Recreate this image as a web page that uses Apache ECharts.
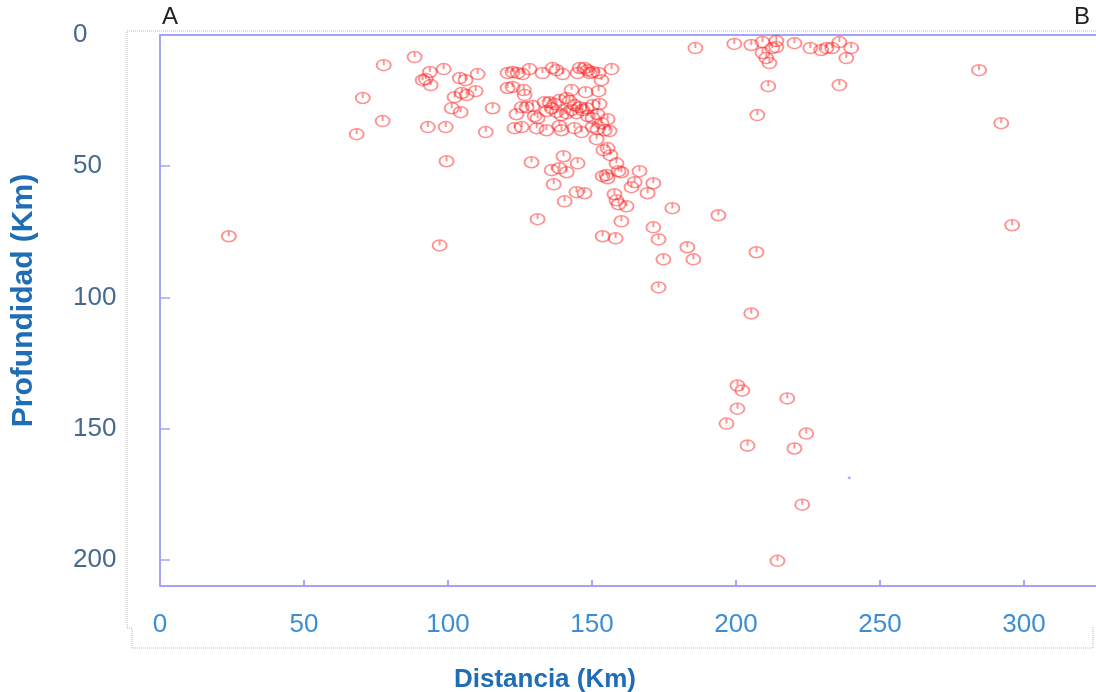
<!DOCTYPE html>
<html>
<head>
<meta charset="utf-8">
<script src="https://cdn.jsdelivr.net/npm/echarts@6/dist/echarts.min.js"></script>
<style>
html,body{margin:0;padding:0;background:#fff;}
#chart{width:1096px;height:692px;}
</style>
</head>
<body>
<div id="chart"></div>
<script>
// Distance along profile (km)
const distancia = [
  23.9, 68.3, 70.4, 77.7, 77.3, 88.4, 93.0, 99.2, 99.5, 97.1,
  93.7, 98.5, 91.2, 92.3, 94.0, 104.1, 106.1, 110.3, 102.3, 104.8,
  106.5, 109.6, 101.3, 104.4, 115.5, 113.1,
  120.7, 122.4, 124.2, 125.9, 128.3, 120.7, 122.4, 126.3, 126.6, 132.8,
  136.3, 137.7, 139.8, 145.0, 145.7, 147.4, 148.5, 149.2, 150.2, 152.3,
  153.3, 156.8, 142.9, 147.8, 152.3, 123.8, 125.6, 127.3, 129.4, 130.1,
  131.1, 133.5, 135.3, 137.0, 138.7, 141.2, 142.2, 143.9, 145.7, 148.1,
  150.2, 152.6, 134.2, 136.0, 137.7, 139.4, 141.2, 142.9, 144.6, 146.7,
  148.5, 150.2, 151.9, 155.4, 123.1, 125.6, 130.8, 134.2, 138.7, 139.4,
  143.9, 146.4, 150.2, 151.9, 153.3, 154.4, 156.1, 151.6,
  129.0, 140.1, 145.0, 136.0, 138.7, 141.2, 136.7, 144.6, 147.4, 140.5,
  131.1, 154.0, 155.4, 156.4, 158.5, 160.2, 159.2, 166.5, 153.7, 155.0,
  155.4, 164.8, 163.7, 171.3, 169.3, 157.8, 158.5, 159.2, 162.0, 177.9,
  193.9, 160.2, 171.3, 153.7, 158.2, 173.1, 183.1, 174.8, 185.2, 207.1,
  173.1, 205.3,
  200.5, 202.2, 217.8, 200.5, 196.7, 224.4, 204.0, 220.3, 223.0, 214.4,
  185.9, 199.4, 205.3, 209.2, 214.0, 212.6, 214.0, 209.2, 210.5, 211.6,
  220.3, 225.8, 229.6, 231.4, 233.4, 235.9, 240.0, 238.3, 211.2, 235.9,
  207.4,
  284.4, 292.1, 295.9
];
// Depth (km)
const profundidad = [
  76.7, 37.8, 24.0, 11.5, 32.8, 8.4, 35.1, 35.1, 48.1, 80.2,
  14.1, 13.0, 17.2, 16.8, 19.1, 16.4, 17.2, 14.9, 23.7, 22.1,
  22.9, 21.4, 27.9, 29.4, 27.9, 37.0,
  14.5, 14.1, 14.5, 14.9, 13.0, 20.2, 19.8, 21.0, 22.9, 14.5,
  12.6, 13.4, 14.9, 14.5, 12.6, 12.6, 13.4, 14.5, 14.1, 14.5,
  17.2, 13.0, 21.0, 21.8, 21.4, 30.2, 27.5, 27.5, 27.1, 30.9,
  31.7, 25.6, 25.6, 26.3, 24.8, 24.0, 25.2, 26.7, 27.5, 27.9,
  26.7, 26.3, 29.0, 27.9, 29.4, 30.5, 29.8, 28.6, 29.8, 28.6,
  30.9, 31.7, 30.2, 32.1, 35.5, 35.1, 35.5, 36.3, 34.7, 36.3,
  35.5, 37.0, 35.1, 35.9, 33.6, 36.3, 36.6, 39.7,
  48.5, 46.2, 48.9, 51.5, 50.8, 52.3, 56.9, 59.9, 60.3, 63.4,
  70.2, 43.9, 43.1, 45.8, 48.9, 52.3, 51.9, 51.9, 53.8, 53.4,
  54.6, 56.1, 58.0, 56.5, 60.3, 60.7, 63.0, 64.5, 65.3, 66.0,
  68.7, 71.0, 73.3, 76.7, 77.5, 77.9, 80.9, 85.5, 85.5, 82.8,
  96.2, 106.1,
  133.6, 135.5, 138.5, 142.4, 148.1, 151.9, 156.5, 157.6, 179.0, 200.4,
  5.0, 3.4, 3.8, 2.7, 2.3, 5.0, 4.6, 6.9, 8.8, 10.7,
  3.1, 5.0, 5.7, 5.0, 5.0, 2.7, 5.0, 8.8, 19.5, 19.1,
  30.5,
  13.4, 33.6, 72.5
];
// Isolated small mark
const puntoDist = [239.3];
const puntoProf = [168.7];

const xTicks = [0, 50, 100, 150, 200, 250, 300];
const yTicks = [0, 50, 100, 150, 200];

const sismos = distancia.map((d, i) => [d, profundidad[i]]);
const punto = puntoDist.map((d, i) => [d, puntoProf[i]]);

const axisBlue = '#a4a4f6';
const font = '"Liberation Sans", Arial, sans-serif';

const chart = echarts.init(document.getElementById('chart'), null, {renderer: 'canvas'});
chart.setOption({
  animation: false,
  backgroundColor: '#ffffff',
  grid: {left: 160, right: 0, top: 35, bottom: 106, containLabel: false, outerBoundsMode: 'none'},
  xAxis: [{
    type: 'value', min: 0, max: 325, position: 'bottom',
    name: 'Distancia (Km)', nameLocation: 'middle', nameGap: 81,
    nameTextStyle: {color: '#1f6db4', fontSize: 26, fontWeight: 'bold', fontFamily: font, padding: [0, 166, 0, 0]},
    axisLine: {show: true, onZero: false, lineStyle: {color: axisBlue, width: 2}},
    axisTick: {show: true, inside: true, length: 6, lineStyle: {color: axisBlue, width: 2}, customValues: xTicks},
    axisLabel: {color: '#3b8ed3', fontSize: 26, fontFamily: font, margin: 26, customValues: xTicks},
    splitLine: {show: false}
  }, {
    type: 'value', min: 0, max: 325, position: 'top',
    axisLine: {show: true, onZero: false, lineStyle: {color: axisBlue, width: 2}},
    axisTick: {show: false}, axisLabel: {show: false}, splitLine: {show: false}
  }],
  yAxis: {
    type: 'value', min: 0, max: 210, inverse: true,
    name: 'Profundidad (Km)', nameLocation: 'middle', nameGap: 121,
    nameTextStyle: {color: '#1f6db4', fontSize: 30, fontWeight: 'bold', fontFamily: font, padding: [0, 0, 0, 20]},
    axisLine: {show: true, onZero: false, lineStyle: {color: axisBlue, width: 2}},
    axisTick: {show: true, inside: true, length: 10, lineStyle: {color: axisBlue, width: 1.5}, customValues: yTicks},
    axisLabel: {color: '#46698f', fontSize: 26, fontFamily: font, margin: 87, align: 'left', padding: [0, 0, 8, 0], customValues: yTicks},
    splitLine: {show: false}
  },
  series: [{
    name: 'Sismos',
    type: 'scatter',
    xAxisIndex: 0,
    data: sismos,
    symbol: 'path://M0,5 A7,5 0 1 1 14,5 A7,5 0 1 1 0,5 Z M7,0 L7,5',
    symbolSize: [14, 11],
    itemStyle: {color: 'rgba(255,255,255,0)', borderColor: 'rgba(255,25,25,0.6)', borderWidth: 1.7},
    emphasis: {disabled: true}
  }, {
    name: 'Punto',
    type: 'scatter',
    xAxisIndex: 0,
    data: punto,
    symbol: 'circle',
    symbolSize: 3,
    itemStyle: {color: '#9a9af0'},
    emphasis: {disabled: true}
  }],
  graphic: [
    {type: 'polyline', silent: true, z: 0,
     shape: {points: [[1096, 31], [127, 31], [127, 628], [132, 628], [132, 648], [1093, 648], [1093, 627]]},
     style: {stroke: '#b8b8b8', lineWidth: 1, lineDash: [1, 1], fill: null}},
    {type: 'text', left: 162, top: 5, style: {text: 'A', fill: '#222', font: '24px ' + font}},
    {type: 'text', left: 1074, top: 5, style: {text: 'B', fill: '#222', font: '24px ' + font}}
  ]
});
</script>
</body>
</html>
